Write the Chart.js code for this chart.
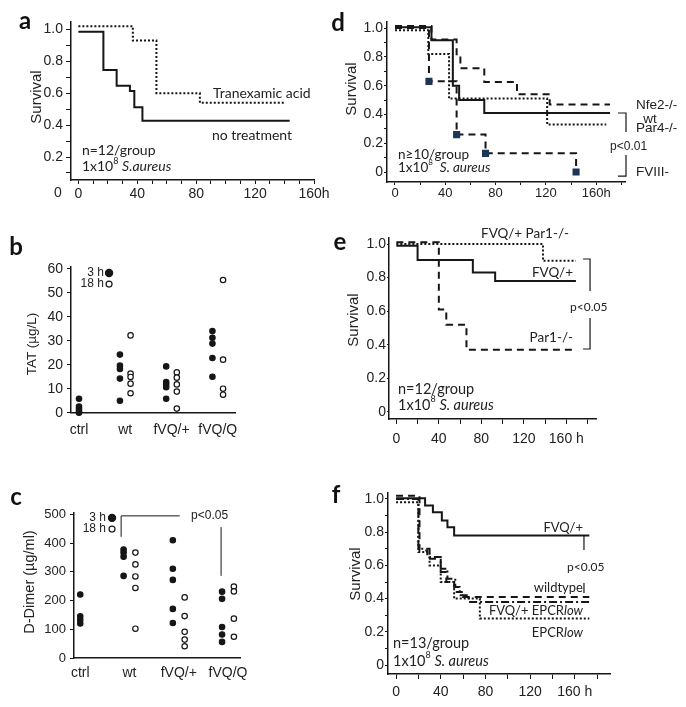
<!DOCTYPE html>
<html>
<head>
<meta charset="utf-8">
<script src="https://cdn.jsdelivr.net/npm/chart.js@4.4.0/dist/chart.umd.min.js"></script>
<style>
  body { margin: 0; background: #fff; width: 686px; height: 707px; position: relative; overflow: hidden; }
  canvas { position: absolute; }
  .tag { position: absolute; font: bold 24px Lato, sans-serif; color: #111; transform: translate(-50%, -50%); }
  .ytitle { position: absolute; font: 15px "Liberation Sans", Arial, sans-serif; color: #222; white-space: nowrap;
            transform: translate(-50%, -50%) rotate(-90deg); }
</style>
</head>
<body>
<canvas id="pa" width="343" height="205" style="left:0;top:0"></canvas>
<canvas id="pb" width="343" height="195" style="left:0;top:250px"></canvas>
<canvas id="pc" width="343" height="205" style="left:0;top:495px"></canvas>
<canvas id="pd" width="343" height="207" style="left:343px;top:0"></canvas>
<canvas id="pe" width="343" height="220" style="left:343px;top:225px"></canvas>
<canvas id="pf" width="343" height="220" style="left:343px;top:480px"></canvas>

<div class="tag" style="left:25px;top:19px">a</div>
<div class="tag" style="left:16px;top:245px">b</div>
<div class="tag" style="left:16px;top:495px">c</div>
<div class="tag" style="left:338px;top:21px">d</div>
<div class="tag" style="left:340px;top:240px">e</div>
<div class="tag" style="left:336px;top:493px">f</div>

<div class="ytitle" style="left:35px;top:97px">Survival</div>
<div class="ytitle" style="left:31px;top:344px;font-size:13.5px">TAT (µg/L)</div>
<div class="ytitle" style="left:29px;top:582px;font-size:14.5px">D-Dimer (µg/ml)</div>
<div class="ytitle" style="left:350px;top:89px">Survival</div>
<div class="ytitle" style="left:352px;top:320px">Survival</div>
<div class="ytitle" style="left:354px;top:574px">Survival</div>

<script>
// ---- data: survival curves (hours, fraction alive) ----
const aTxaTimes = [0, 37, 53, 82.5, 140];
const aTxaSurv = [1.02, 0.93, 0.60, 0.54, 0.54];
const aNoneTimes = [0, 17, 26, 35, 38, 43.5, 143.5];
const aNoneSurv = [0.985, 0.745, 0.647, 0.614, 0.512, 0.428, 0.428];

const dNfe2Times = [0, 29, 49, 52, 71, 97, 123, 171];
const dNfe2Surv = [1.015, 0.92, 0.81, 0.72, 0.625, 0.54, 0.47, 0.47];
const dWtTimes = [0, 29, 46, 51, 71, 171];
const dWtSurv = [1.005, 0.915, 0.60, 0.50, 0.41, 0.41];
const dPar4Times = [0, 26.5, 43, 121, 168];
const dPar4Surv = [0.985, 0.82, 0.51, 0.33, 0.33];
const dF8Times = [0, 27, 49, 72, 144];
const dF8Surv = [1.0, 0.63, 0.26, 0.13, 0];

const eFvqTimes = [0, 20, 72, 93, 169];
const eFvqSurv = [0.99, 0.905, 0.83, 0.78, 0.78];
const eFvqPar1Times = [0, 138, 169];
const eFvqPar1Surv = [1.0, 0.90, 0.90];
const ePar1Times = [0, 40, 47, 66, 169];
const ePar1Surv = [1.01, 0.61, 0.52, 0.37, 0.37];

const fFvqTimes = [0, 26, 33, 41, 46, 52, 173];
const fFvqSurv = [1.005, 0.96, 0.92, 0.87, 0.83, 0.78, 0.78];
const fWtTimes = [0, 21, 28, 40, 45, 52, 60, 173];
const fWtSurv = [1.02, 0.69, 0.64, 0.56, 0.50, 0.44, 0.41, 0.41];
const fFvqEpcrTimes = [0, 20, 30, 40, 46, 53, 57, 65, 173];
const fFvqEpcrSurv = [1.0, 0.70, 0.65, 0.58, 0.52, 0.47, 0.42, 0.38, 0.38];
const fEpcrTimes = [0, 20, 30, 40, 52, 75, 173];
const fEpcrSurv = [0.98, 0.68, 0.60, 0.50, 0.40, 0.28, 0.28];

// ---- data: TAT and D-dimer per genotype (3 h filled, 18 h open) ----
const groups = ['ctrl', 'wt', 'fVQ/+', 'fVQ/Q'];
const tat3h = [[5.8, 2.6, 1.5, 0.6, 0], [24.2, 19.6, 18.2, 14.2, 5], [19.3, 12.8, 11.8, 10.6, 5.8], [34, 31.2, 28.8, 22.8, 15]];
const tat18h = [[], [32.2, 16.3, 14.9, 12.1, 8.1], [16.8, 14.6, 11.8, 8.8, 1.7], [55.3, 22.1, 10, 7.5]];
const dd3h = [[221, 145, 133, 120], [378, 367, 353, 286], [410, 311, 272, 171, 122], [231, 206, 108, 82, 56]];
const dd18h = [[], [367, 326, 284, 244, 102], [211, 146, 91, 64, 41], [249, 232, 137, 74]];

// ---- tick labels ----
const survMajor = [0.2, 0.4, 0.6, 0.8, 1.0];
const survMajorText = ['0.2', '0.4', '0.6', '0.8', '1.0'];
const survMajor0 = [0, 0.2, 0.4, 0.6, 0.8, 1.0];
const survMajor0Text = ['0', '0.2', '0.4', '0.6', '0.8', '1.0'];
const survMinor = [0.1, 0.3, 0.5, 0.7, 0.9];
const hourMajor = [0, 40, 80, 120, 160];
const hourTextA = ['0', '40', '80', '120', '160h'];
const hourTextE = ['0', '40', '80', '120', '160 h'];
const hourMinorA = [10, 20, 30, 50, 60, 70, 90, 100, 110, 130, 140, 150];
const hourMinor = [20, 60, 100, 140, 180];
const tatTicks = [0, 10, 20, 30, 40, 50, 60];
const ddTicks = [0, 100, 200, 300, 400, 500];

const ink = '#161616';
const axisFont = '"Liberation Sans", Arial, sans-serif';
const noteFont = 'Lato, "Open Sans", sans-serif';
const dashes = { solid: [], dot: [2, 2], dash: [7, 5], dashdot: [8, 3, 2, 3] };

// text, lines and legend dots drawn after the data, placed in data units
const notesPlugin = {
  id: 'notes',
  afterDatasetsDraw(chart, args, opts) {
    const { ctx } = chart;
    const xs = chart.scales.x, ys = chart.scales.y;
    const px = v => xs.getPixelForValue(v), py = v => ys.getPixelForValue(v);
    ctx.save();
    (opts.items || []).forEach(it => {
      if (it.kind === 'line') {
        ctx.strokeStyle = ink; ctx.lineWidth = it.lw || 1.2; ctx.setLineDash([]);
        ctx.beginPath();
        it.pts.forEach((p, i) => i ? ctx.lineTo(px(p[0]), py(p[1])) : ctx.moveTo(px(p[0]), py(p[1])));
        ctx.stroke();
      } else if (it.kind === 'dot') {
        ctx.beginPath();
        ctx.arc(px(it.x), py(it.y), it.r, 0, Math.PI * 2);
        ctx.fillStyle = it.open ? '#fff' : ink; ctx.fill();
        ctx.lineWidth = 1.2; ctx.strokeStyle = ink; ctx.stroke();
      } else {
        const size = it.size || 14, fam = it.family || noteFont;
        const parts = typeof it.text === 'string' ? [{ s: it.text }] : it.text;
        const fontOf = p => (p.it ? 'italic ' : '') + (p.sup ? Math.round(size * 0.62) : size) + 'px ' + fam;
        let w = 0;
        parts.forEach(p => { ctx.font = fontOf(p); p.w = ctx.measureText(p.s).width; w += p.w; });
        let cx = px(it.x);
        if (it.align === 'right') cx -= w; else if (it.align === 'center') cx -= w / 2;
        const cy = py(it.y);
        ctx.fillStyle = '#222'; ctx.textBaseline = 'middle'; ctx.textAlign = 'left';
        parts.forEach(p => { ctx.font = fontOf(p); ctx.fillText(p.s, cx, p.sup ? cy - size * 0.38 : cy); cx += p.w; });
      }
    });
    ctx.restore();
  }
};

const T = (x, y, text, o = {}) => Object.assign({ kind: 'text', x, y, text }, o);
const L = (pts, o = {}) => Object.assign({ kind: 'line', pts }, o);
const C = (x, y, o = {}) => Object.assign({ kind: 'dot', x, y }, o);
const dose = (sp) => [{ s: '1x10' }, { s: '8', sup: true }, { s: sp }, { s: 'S. aureus', it: true }];

function axis(o) {
  const all = o.major.concat(o.minor || []).sort((p, q) => p - q);
  return {
    type: 'linear', min: o.min, max: o.max,
    afterFit: s => { if (s.isHorizontal()) s.height = o.size; else s.width = o.size; },
    afterBuildTicks: s => { s.ticks = all.map(v => ({ value: v })); },
    border: { display: true, color: ink, width: 1.5 },
    grid: { display: true, drawOnChartArea: false, drawTicks: o.tick > 0, tickLength: o.tick, color: ink, tickWidth: 1 },
    ticks: {
      autoSkip: false, maxRotation: 0, padding: o.pad, color: '#222',
      font: { family: axisFont, size: o.font },
      callback: v => {
        const k = o.major.findIndex(m => Math.abs(m - v) < 1e-6);
        return k < 0 ? '' : o.text[k];
      }
    }
  };
}

function km(times, surv, style, extra = {}) {
  return Object.assign({
    data: times.map((t, i) => ({ x: t, y: surv[i] })),
    stepped: true, borderColor: ink, borderWidth: 2, borderDash: dashes[style],
    borderCapStyle: 'butt', pointRadius: 0, fill: false, clip: false
  }, extra);
}

function scatterSet(filled, open, spread) {
  // groups with no 18 h values keep their 3 h dots on the category centre
  const f = [], o = [];
  filled.forEach((vals, i) => {
    const s = open[i].length ? -spread : 0;
    vals.forEach(v => f.push({ x: i + s, y: v }));
  });
  open.forEach((vals, i) => vals.forEach(v => o.push({ x: i + spread, y: v })));
  const base = { pointRadius: 2.7, pointBorderWidth: 1.2, pointBorderColor: ink, showLine: false, clip: false };
  return [
    Object.assign({ data: f, pointBackgroundColor: ink }, base),
    Object.assign({ data: o, pointBackgroundColor: '#fff' }, base)
  ];
}

function build(id, type, datasets, xAx, yAx, pad, items) {
  return new Chart(document.getElementById(id), {
    type,
    data: { datasets },
    options: {
      responsive: false, animation: false, events: [],
      layout: { padding: pad },
      scales: { x: xAx, y: yAx },
      plugins: { legend: { display: false }, tooltip: { enabled: false }, notes: { items } }
    },
    plugins: [notesPlugin]
  });
}

// a
build('pa', 'line',
  [km(aNoneTimes, aNoneSurv, 'solid'), km(aTxaTimes, aTxaSurv, 'dot')],
  axis({ min: -5, max: 160, size: 25, major: hourMajor, minor: hourMinorA, text: hourTextA, tick: 4, pad: 2, font: 14 }),
  axis({ min: 0.056, max: 1.046, size: 71, major: survMajor, minor: survMinor, text: survMajorText, tick: 5, pad: 3, font: 14 }),
  { top: 22, right: 29, left: 0, bottom: 0 },
  [
    T(91.4, 0.601, 'Tranexamic acid'),
    T(90.7, 0.332, 'no treatment'),
    T(2.4, 0.244, 'n=12/group'),
    T(2.4, 0.138, [{ s: '1x10' }, { s: '8', sup: true }, { s: ' ' }, { s: 'S.aureus', it: true }]),
    T(-13.9, -0.025, '0', { align: 'center', family: axisFont })
  ]);

// b
build('pb', 'scatter',
  scatterSet(tat3h, tat18h, 0.115),
  axis({ min: -0.173, max: 3.373, size: 32.3, major: [0, 1, 2, 3], text: groups, tick: 0, pad: 9, font: 14 }),
  axis({ min: 0, max: 61, size: 71, major: tatTicks, text: tatTicks.map(String), tick: 4, pad: 4, font: 14 }),
  { top: 16.3, right: 108, left: 0, bottom: 0 },
  [
    T(0.54, 58.2, '3 h', { align: 'right', size: 12, family: axisFont }), C(0.65, 58.2, { r: 3.6 }),
    T(0.54, 53.6, '18 h', { align: 'right', size: 12, family: axisFont }), C(0.65, 53.6, { r: 3, open: true })
  ]);

// c
build('pc', 'scatter',
  scatterSet(dd3h, dd18h, 0.12),
  axis({ min: -0.127, max: 3.244, size: 42, major: [0, 1, 2, 3], text: groups, tick: 0, pad: 7, font: 14 }),
  axis({ min: 0, max: 505, size: 74, major: ddTicks, text: ddTicks.map(String), tick: 4, pad: 4, font: 13 }),
  { top: 18, right: 103, left: 0, bottom: 0 },
  [
    T(0.523, 488, '3 h', { align: 'right', size: 12, family: axisFont }), C(0.645, 488, { r: 3.6 }),
    T(0.523, 449, '18 h', { align: 'right', size: 12, family: axisFont }), C(0.645, 449, { r: 3, open: true }),
    L([[0.83, 422], [0.83, 495], [2.02, 495]], { lw: 1 }),
    T(2.25, 495, 'p<0.05', { size: 12, family: axisFont }),
    L([[2.86, 456], [2.86, 286]], { lw: 1 })
  ]);

// d
const squares = dF8Times.map((t, i) => i === 0 ? 0 : 3.6);
build('pd', 'line',
  [
    km(dPar4Times, dPar4Surv, 'dot'),
    km(dNfe2Times, dNfe2Surv, 'dash'),
    km(dWtTimes, dWtSurv, 'solid'),
    km(dF8Times, dF8Surv, 'dash', { pointRadius: squares, pointStyle: 'rect', pointBackgroundColor: '#1d3557', pointBorderColor: '#1d3557' })
  ],
  axis({ min: -6.36, max: 182.9, size: 25, major: hourMajor, minor: hourMinor, text: hourTextA, tick: 3, pad: 1, font: 13 }),
  axis({ min: -0.069, max: 1.042, size: 44, major: survMajor0, minor: survMinor, text: survMajor0Text, tick: 3, pad: 1, font: 14 }),
  { top: 22, right: 61, left: 0, bottom: 0 },
  [
    T(191.6, 0.465, 'Nfe2-/-', { size: 13.5, family: axisFont }),
    T(202.8, 0.368, 'wt', { align: 'center', size: 13.5, family: axisFont }),
    T(191.6, 0.306, 'Par4-/-', { size: 13.5, family: axisFont }),
    T(171, 0.174, 'p<0.01', { size: 12, family: axisFont }),
    T(191.6, 0, 'FVIII-', { size: 13.5, family: axisFont }),
    L([[177.3, 0.41], [183.7, 0.41], [183.7, 0.278]]),
    L([[183.7, 0.118], [183.7, -0.028], [177.3, -0.028]]),
    T(2.4, 0.118, 'n≥10/group', { size: 13.5 }),
    T(2.4, 0.028, dose('  '), { size: 13.5 })
  ]);

// e
build('pe', 'line',
  [km(eFvqPar1Times, eFvqPar1Surv, 'dot'), km(eFvqTimes, eFvqSurv, 'solid'), km(ePar1Times, ePar1Surv, 'dash')],
  axis({ min: -6.9, max: 187.9, size: 26, major: hourMajor, minor: hourMinor, text: hourTextE, tick: 5, pad: 7, font: 14 }),
  axis({ min: -0.042, max: 1.036, size: 46, major: survMajor0, text: survMajor0Text, tick: 2, pad: 1, font: 14 }),
  { top: 13, right: 90, left: 0, bottom: 0 },
  [
    T(79.7, 1.06, 'FVQ/+ Par1-/-', { size: 13.5 }),
    T(166.3, 0.827, 'FVQ/+', { align: 'right', size: 13.5 }),
    T(163.5, 0.625, 'p<0.05', { size: 12 }),
    T(166.3, 0.44, 'Par1-/-', { align: 'right', size: 13.5 }),
    L([[175.7, 0.911], [182.3, 0.911], [182.3, 0.72]]),
    L([[182.3, 0.56], [182.3, 0.375], [175.7, 0.375]]),
    T(1.6, 0.137, 'n=12/group', { size: 14.5 }),
    T(1.6, 0.042, dose(' '), { size: 14.5 })
  ]);

// f
build('pf', 'line',
  [
    km(fEpcrTimes, fEpcrSurv, 'dot'),
    km(fFvqEpcrTimes, fFvqEpcrSurv, 'dashdot'),
    km(fWtTimes, fWtSurv, 'dash'),
    km(fFvqTimes, fFvqSurv, 'solid')
  ],
  axis({ min: -7.2, max: 191.5, size: 26, major: hourMajor, minor: hourMinor, text: hourTextE, tick: 5, pad: 5, font: 14 }),
  axis({ min: -0.054, max: 1.036, size: 45, major: survMajor0, minor: survMinor, text: survMajor0Text, tick: 3, pad: 1, font: 14 }),
  { top: 13, right: 76, left: 0, bottom: 0 },
  [
    T(167.3, 0.825, 'FVQ/+', { align: 'right', size: 13 }),
    T(153, 0.59, 'p<0.05', { size: 12 }),
    T(167.3, 0.464, 'wildtype', { align: 'right', size: 13 }),
    T(167.3, 0.325, [{ s: 'FVQ/+ EPCR' }, { s: 'low', it: true }], { align: 'right', size: 13 }),
    T(167.3, 0.193, [{ s: 'EPCR' }, { s: 'low', it: true }], { align: 'right', size: 13 }),
    L([[168.2, 0.777], [168.2, 0.693]]),
    L([[168.2, 0.494], [168.2, 0.434]]),
    T(-2.7, 0.133, 'n=13/group', { size: 14.5 }),
    T(-2.7, 0.024, dose(' '), { size: 14.5 })
  ]);
</script>
</body>
</html>
